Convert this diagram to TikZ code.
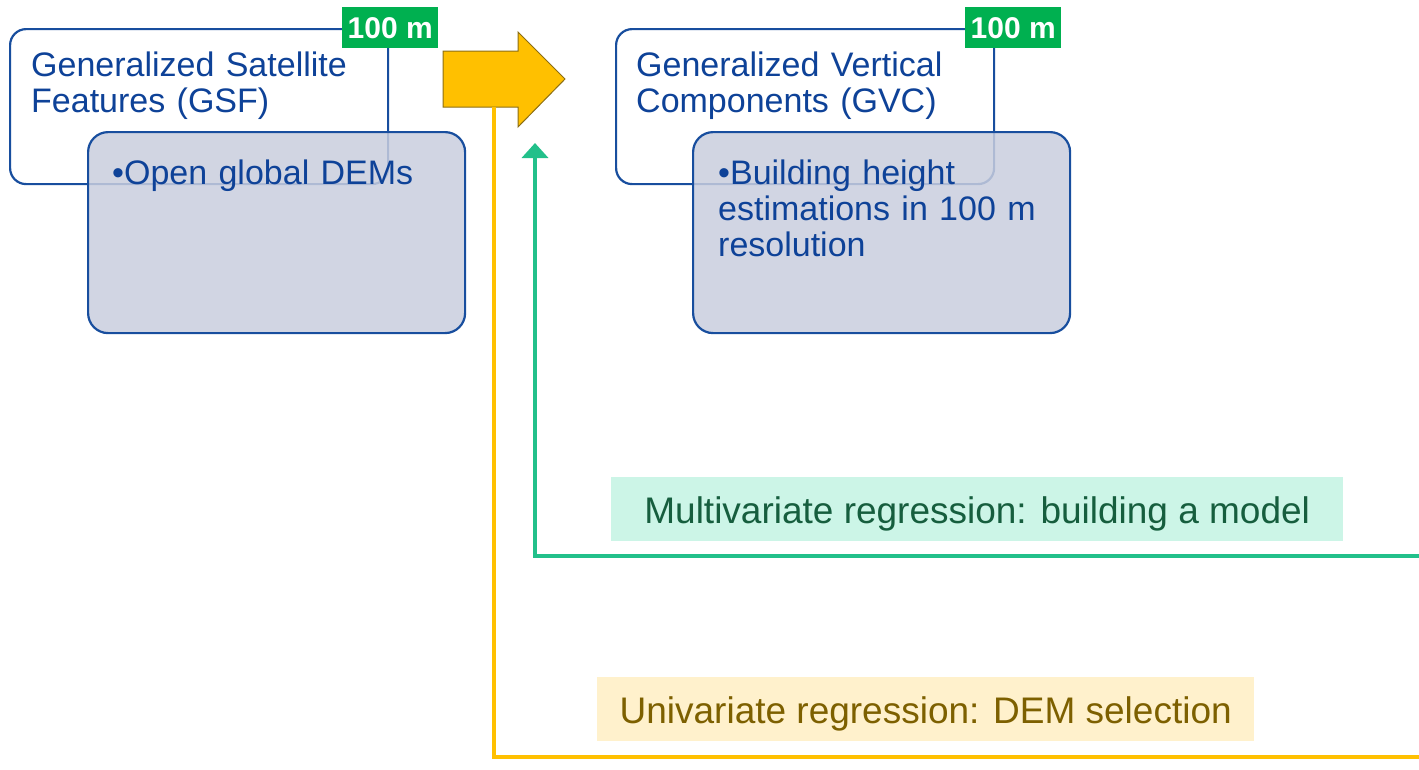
\documentclass[tikz,border=0pt]{standalone}
\usepackage{fontspec}
\setmainfont{Liberation Sans}
\usetikzlibrary{arrows.meta}

\definecolor{boxblue}{RGB}{24,78,158}
\definecolor{txtblue}{RGB}{14,66,152}
\definecolor{panel}{RGB}{201,206,222}
\definecolor{taggreen}{RGB}{0,176,80}
\definecolor{flowgold}{RGB}{255,192,0}
\definecolor{goldedge}{RGB}{140,110,20}
\definecolor{flowgreen}{RGB}{34,192,138}
\definecolor{mint}{RGB}{204,245,231}
\definecolor{minttext}{RGB}{22,94,62}
\definecolor{cream}{RGB}{255,241,204}
\definecolor{creamtext}{RGB}{125,96,0}

\begin{document}
\begin{tikzpicture}[x=1pt,y=-1pt,
  bigfont/.style={font=\fontsize{34}{36}\selectfont},
  frame/.style={draw=boxblue,line width=2.2pt,rounded corners=16pt,fill=white,
    anchor=north west,inner sep=0pt,minimum width=378pt,minimum height=155pt},
  panelbox/.style={draw=boxblue,line width=2.2pt,rounded corners=20pt,fill=panel,
    fill opacity=0.85,anchor=north west,inner sep=0pt,minimum width=377pt,minimum height=201pt},
  tag/.style={fill=taggreen,text=white,anchor=north west,inner sep=0pt,
    minimum width=96pt,minimum height=41pt,font=\fontsize{30}{32}\selectfont\bfseries},
  heading/.style={bigfont,text=txtblue,anchor=base west,inner sep=0pt,text width=400pt,align=left},
  labelbox/.style={font=\fontsize{37}{40}\selectfont,anchor=north west,inner sep=0pt,
    text height=46pt,text depth=18pt},
  goldline/.style={draw=flowgold,line width=4pt},
  greenline/.style={draw=flowgreen,line width=4pt}
]
\useasboundingbox (0,0) rectangle (1419,769);

% left block: satellite features
\node[frame] (gsf) at (9,28) {};
\node[tag] (gsftag) at (342,7) {100 m};
\node[heading] (gsftitle) at (31,76) {Generalized Satellite\\Features (GSF)};
\node[panelbox] (gsfpanel) at (87,131) {};
\node[heading] (gsfitem) at (112,184) {•Open global DEMs};

% right block: vertical components
\node[frame] (gvc) at (615,28) {};
\node[tag] (gvctag) at (965,7) {100 m};
\node[heading] (gvctitle) at (636,76) {Generalized Vertical\\Components (GVC)};
\node[panelbox] (gvcpanel) at (692,131) {};
\node[heading] (gvcitem) at (718,184) {•Building height\\estimations in 100 m\\resolution};

% block arrow between the two blocks
\draw[fill=flowgold,draw=goldedge,line width=1pt]
  (443,51) -- (518,51) -- (518,32) -- (565,79) -- (518,127) -- (518,107) -- (443,107) -- cycle;
\coordinate (shaftfoot) at (494,107);

% regression labels
\node[labelbox,fill=mint,text=minttext,minimum width=732pt] (multi) at (611,477)
  {Multivariate regression: building a model};
\node[labelbox,fill=cream,text=creamtext,minimum width=657pt] (uni) at (597,677)
  {Univariate regression: DEM selection};

% feedback lines
\coordinate (multiend) at (1419,556);
\coordinate (multitip) at (535,143);
\coordinate (uniend) at (1419,757);
\draw[greenline,-{Triangle[width=26pt,length=15pt]}] (multiend) -| (multitip);
\draw[goldline] (shaftfoot) |- (uniend);
\end{tikzpicture}
\end{document}
